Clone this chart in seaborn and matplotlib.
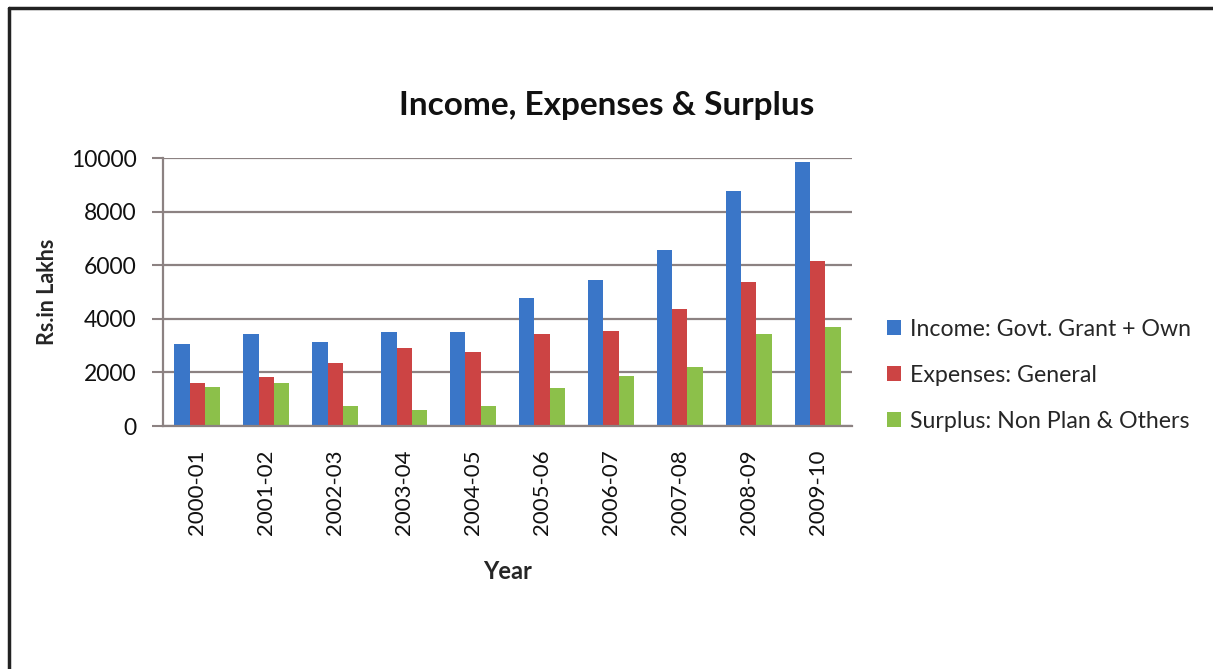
import matplotlib
matplotlib.use("Agg")
import matplotlib.pyplot as plt
import seaborn as sns
import pandas as pd
from matplotlib.lines import Line2D

years = ["2000-01", "2001-02", "2002-03", "2003-04", "2004-05",
         "2005-06", "2006-07", "2007-08", "2008-09", "2009-10"]
income = [3060, 3420, 3140, 3500, 3500, 4790, 5450, 6550, 8780, 9840]
expenses = [1610, 1840, 2340, 2900, 2760, 3420, 3550, 4360, 5370, 6170]
surplus = [1460, 1610, 750, 610, 750, 1400, 1880, 2190, 3420, 3710]
series_names = ["Income: Govt. Grant + Own", "Expenses: General",
                "Surplus: Non Plan & Others"]
colors = ["#3A76C8", "#CC4444", "#8CC04A"]
yticks = [0, 2000, 4000, 6000, 8000, 10000]

df = pd.DataFrame({
    "Year": years * 3,
    "Value": income + expenses + surplus,
    "Series": [series_names[0]] * len(years) + [series_names[1]] * len(years)
              + [series_names[2]] * len(years),
})

sns.set_theme(style="white")
plt.rcParams["font.family"] = ["Lato", "DejaVu Sans"]

fig = plt.figure(figsize=(12.13, 6.69), dpi=100)
ax = fig.add_axes([0.1344, 0.3632, 0.5680, 0.4006])

sns.barplot(data=df, x="Year", y="Value", hue="Series", palette=colors,
            width=0.667, saturation=1, ax=ax, legend=True, linewidth=0)

ax.set_ylim(0, 10000)
ax.set_xlim(-0.5, len(years) - 0.5)
ax.set_yticks(yticks)
ax.set_yticklabels([str(v) for v in yticks], fontsize=16.5, color="#111111")
ax.tick_params(axis="y", which="major", direction="out", length=8, width=1.5,
               color="#8C8282", pad=11, left=True)
ax.tick_params(axis="x", length=0, pad=17)
for lbl in ax.get_xticklabels():
    lbl.set_rotation(90)
    lbl.set_fontsize(16)
    lbl.set_color("#111111")

ax.yaxis.grid(True, color="#8C8282", linewidth=1.6)
ax.set_axisbelow(True)
for s in ["top", "right"]:
    ax.spines[s].set_visible(False)
for s in ["left", "bottom"]:
    ax.spines[s].set_color("#8C8282")
    ax.spines[s].set_linewidth(1.6)

ax.set_xlabel("Year", fontsize=17, fontweight="bold", labelpad=18)
ax.set_ylabel("Rs.in Lakhs", fontsize=15.5, fontweight="bold", labelpad=9)

fig.text(0.5, 0.842, "Income, Expenses & Surplus", ha="center", va="center",
         fontsize=24, fontweight="bold", color="#111111")

handles, labels = ax.get_legend_handles_labels()
ax.legend(handles, labels, loc="center left", bbox_to_anchor=(1.02, 0.19),
          frameon=False, fontsize=16.7, handlelength=0.6, handleheight=0.6,
          handletextpad=0.4, labelspacing=1.08)

# outer frame (top and left edges)
fig.add_artist(Line2D([0.0072, 1.0], [0.9880, 0.9880], transform=fig.transFigure,
                      color="#222222", linewidth=2.5))
fig.add_artist(Line2D([0.0072, 0.0072], [0.0, 0.9880], transform=fig.transFigure,
                      color="#222222", linewidth=2.5))

fig.savefig("out.png", dpi=100, facecolor="white")
